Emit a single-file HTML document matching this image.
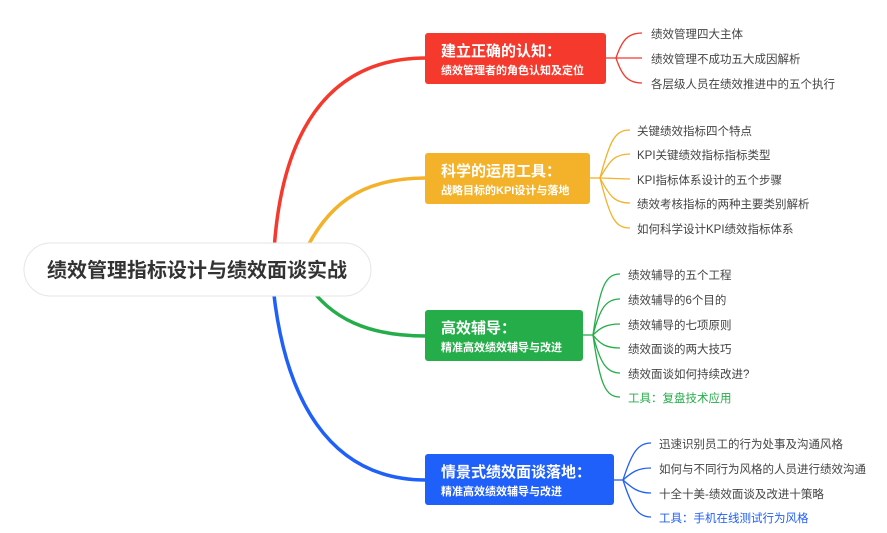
<!DOCTYPE html>
<html><head><meta charset="utf-8"><style>
html,body{margin:0;padding:0;background:#fff;}
svg{display:block;}
text{font-family:"Liberation Sans","Noto Sans CJK SC",sans-serif;}
</style></head><body>
<svg width="887" height="533" viewBox="0 0 887 533" xmlns="http://www.w3.org/2000/svg">
<g fill="none" stroke-width="3.5" stroke-linecap="round">
<path d="M273 275 C276 130 330 58 426 58" stroke="#f5392c"/>
<path d="M300 262 C325 205 360 178 426 178" stroke="#f4b12a"/>
<path d="M305 280 C330 320 370 336 426 336" stroke="#25ad4a"/>
<path d="M272 275 C282 400 330 480 426 480" stroke="#1f5ffa"/>
</g>
<g fill="none" stroke-width="1.3">
<g stroke="#f5392c">
<path d="M606 58 L616 58"/>
<path d="M616 58 C622 40 628 33 642 33"/>
<path d="M616 58 L642 58"/>
<path d="M616 58 C622 76 628 83 642 83"/>
</g>
<g stroke="#f4b12a">
<path d="M590 178 L600 178"/>
<path d="M600 178 C610 140 615 130 630 130"/>
<path d="M600 178 C610 160 615 154 630 154"/>
<path d="M600 178 L630 179"/>
<path d="M600 178 C610 197 615 203 630 203"/>
<path d="M600 178 C610 218 615 228 630 228"/>
</g>
<g stroke="#25ad4a">
<path d="M583 335 L593 335"/>
<path d="M593 335 C600 285 606 274 620 274"/>
<path d="M593 335 C600 308 606 299 620 299"/>
<path d="M593 335 C600 328 606 324 620 324"/>
<path d="M593 335 C600 344 606 348 620 348"/>
<path d="M593 335 C600 362 606 373 620 373"/>
<path d="M593 335 C600 386 606 397 620 397"/>
</g>
<g stroke="#1f5ffa">
<path d="M614 480 L623 480"/>
<path d="M623 480 C632 452 638 443 651 443"/>
<path d="M623 480 C632 472 638 468 651 468"/>
<path d="M623 480 C632 488 638 493 651 493"/>
<path d="M623 480 C632 508 638 517 651 517"/>
</g>
</g>
<rect x="24" y="243" width="347" height="53" rx="26.5" fill="#fff" stroke="#e6e6e6" stroke-width="1"/>
<text x="197" y="277" text-anchor="middle" font-size="20" font-weight="bold" fill="#333">绩效管理指标设计与绩效面谈实战</text>

<rect x="425" y="33" width="181" height="51" rx="3" fill="#f5392c"/>
<text x="441" y="56" font-size="15" font-weight="bold" fill="#fff">建立正确的认知：</text>
<text x="441" y="74" font-size="11" font-weight="bold" fill="#fff">绩效管理者的角色认知及定位</text>

<rect x="425" y="153" width="165" height="51" rx="3" fill="#f4b12a"/>
<text x="441" y="176" font-size="15" font-weight="bold" fill="#fff">科学的运用工具：</text>
<text x="441" y="194" font-size="11" font-weight="bold" fill="#fff">战略目标的KPI设计与落地</text>

<rect x="425" y="310" width="158" height="51" rx="3" fill="#25ad4a"/>
<text x="441" y="333" font-size="15" font-weight="bold" fill="#fff">高效辅导：</text>
<text x="441" y="351" font-size="11" font-weight="bold" fill="#fff">精准高效绩效辅导与改进</text>

<rect x="425" y="454" width="189" height="51" rx="3" fill="#1f5ffa"/>
<text x="441" y="477" font-size="15" font-weight="bold" fill="#fff">情景式绩效面谈落地：</text>
<text x="441" y="495" font-size="11" font-weight="bold" fill="#fff">精准高效绩效辅导与改进</text>

<g font-size="11.5" fill="#444">
<text x="651" y="38">绩效管理四大主体</text>
<text x="651" y="63">绩效管理不成功五大成因解析</text>
<text x="651" y="88">各层级人员在绩效推进中的五个执行</text>
<text x="637" y="135">关键绩效指标四个特点</text>
<text x="637" y="159">KPI关键绩效指标指标类型</text>
<text x="637" y="184">KPI指标体系设计的五个步骤</text>
<text x="637" y="208">绩效考核指标的两种主要类别解析</text>
<text x="637" y="233">如何科学设计KPI绩效指标体系</text>
<text x="628" y="279">绩效辅导的五个工程</text>
<text x="628" y="304">绩效辅导的6个目的</text>
<text x="628" y="329">绩效辅导的七项原则</text>
<text x="628" y="353">绩效面谈的两大技巧</text>
<text x="628" y="378">绩效面谈如何持续改进?</text>
<text x="628" y="402" fill="#25ad4a">工具：复盘技术应用</text>
<text x="659" y="448">迅速识别员工的行为处事及沟通风格</text>
<text x="659" y="473">如何与不同行为风格的人员进行绩效沟通</text>
<text x="659" y="498">十全十美-绩效面谈及改进十策略</text>
<text x="659" y="522" fill="#1f5ffa">工具：手机在线测试行为风格</text>
</g>
</svg>
</body></html>
